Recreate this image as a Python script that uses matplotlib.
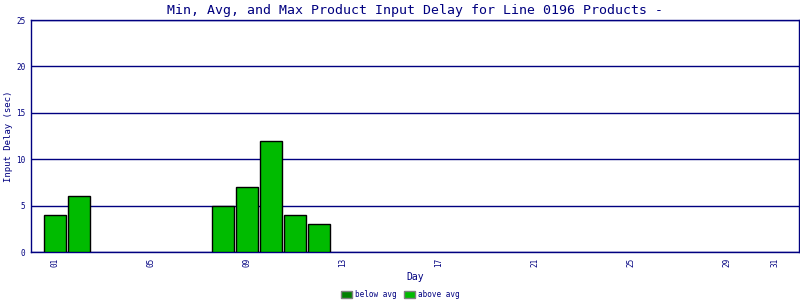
import matplotlib
matplotlib.use("Agg")
import matplotlib.pyplot as plt
from matplotlib.patches import Patch

days = [1, 2, 8, 9, 10, 11, 12]
delays = [4, 6, 5, 7, 12, 4, 3]
tick_days = [1, 5, 9, 13, 17, 21, 25, 29, 31]
tick_labels = ["01", "05", "09", "13", "17", "21", "25", "29", "31"]
y_ticks = [0, 5, 10, 15, 20, 25]
navy = "#000080"
above_color = "#00BB00"
below_color = "#008000"

plt.rcParams['font.family'] = ['DejaVu Sans Mono']
fig = plt.figure(figsize=(8, 3), dpi=100)
ax = fig.add_axes([31/800, 48/300, 768/800, 232/300])
ax.bar(days, delays, width=0.92, color=above_color, edgecolor="black", linewidth=1, zorder=3)
ax.set_xlim(0, 32)
ax.set_ylim(0, 25)
ax.set_yticks(y_ticks)
ax.set_yticklabels([str(v) for v in y_ticks], fontsize=5.5, color=navy)
ax.set_xticks(tick_days)
ax.set_xticklabels(tick_labels, rotation=90, fontsize=5.5, color=navy)
ax.tick_params(length=0, pad=4)
ax.yaxis.grid(True, color=navy, linewidth=1, zorder=0)
ax.set_axisbelow(True)
for s in ax.spines.values():
    s.set_color(navy)
    s.set_linewidth(1)
ax.set_title("Min, Avg, and Max Product Input Delay for Line 0196 Products -",
             fontsize=9.5, color=navy, pad=4)
ax.set_ylabel("Input Delay (sec)", fontsize=6.5, color=navy, labelpad=2)
ax.set_xlabel("Day", fontsize=7, color=navy, labelpad=4)
handles = [Patch(facecolor=below_color, edgecolor="gray", label="below avg"),
           Patch(facecolor=above_color, edgecolor="gray", label="above avg")]
fig.legend(handles=handles, loc="lower center", bbox_to_anchor=(0.5, -0.02), ncol=2,
           frameon=False, fontsize=5.5, labelcolor=navy, handlelength=1.5,
           handleheight=1.0, handletextpad=0.3, columnspacing=1.0)
fig.savefig("out.png", dpi=100)
